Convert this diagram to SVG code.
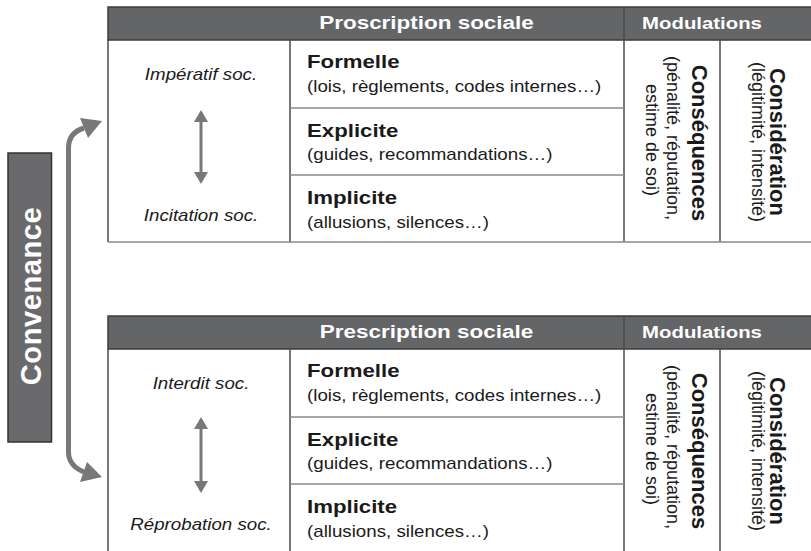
<svg xmlns="http://www.w3.org/2000/svg" width="811" height="551" viewBox="0 0 811 551">
<style>
text{font-family:"Liberation Sans",Arial,sans-serif;fill:#1a1a1a}
.hd{font-weight:bold;fill:#fff}
.t{font-weight:bold;font-size:19px}
.s{font-size:16px}
.i{font-style:italic;font-size:16px;text-anchor:middle}
.rb{font-weight:bold;font-size:22px;text-anchor:middle}
.rs{font-size:18px;text-anchor:middle}
.hdr{fill:#646567;stroke:#3c3c3e;stroke-width:1.5}
.dk{stroke:#4a4a4c;stroke-width:1.5;fill:none}
.lt{stroke:#8a8a8c;stroke-width:1.5;fill:none}
.arr{stroke:#78787a;fill:none}
.ah{fill:#78787a}
</style>
<g id="convenance">
<rect x="8" y="153" width="43.5" height="289" fill="#6a6a6c" stroke="#333" stroke-width="1.5"/>
<text class="hd" transform="translate(41,296) rotate(-90)" text-anchor="middle" font-size="29" letter-spacing="0.6">Convenance</text>
</g>
<g id="connectors">
<path class="arr" stroke-width="5" d="M68.5,300 V148 C68.5,137 74,131 84,128"/>
<polygon class="ah" points="102,121 80,118 88,138"/>
<path class="arr" stroke-width="5" d="M68.5,300 V452 C68.5,462 74,468 84,472"/>
<polygon class="ah" points="102,477 80,482 87,462"/>
</g>
<g id="table-prescription-top">
<rect class="hdr" x="108" y="7" width="710" height="33"/>
<line class="dk" x1="624" y1="7" x2="624" y2="40"/>
<text class="hd" transform="translate(426.5,29) scale(1.17,1)" text-anchor="middle" font-size="19.2">Proscription sociale</text>
<text class="hd" transform="translate(702,29) scale(1.17,1)" text-anchor="middle" font-size="17.4">Modulations</text>
<line class="dk" x1="108" y1="40" x2="108" y2="242"/>
<line class="dk" x1="290" y1="40" x2="290" y2="242"/>
<line class="dk" x1="624" y1="40" x2="624" y2="242"/>
<line class="dk" x1="720" y1="40" x2="720" y2="242"/>
<line class="lt" x1="290" y1="108" x2="624" y2="108"/>
<line class="lt" x1="290" y1="175" x2="624" y2="175"/>
<line class="lt" x1="108" y1="242" x2="811" y2="242"/>
<text class="i" transform="translate(201,80) scale(1.17,1)">Impératif soc.</text>
<text class="i" transform="translate(201,221) scale(1.17,1)">Incitation soc.</text>
<line class="arr" stroke-width="3" x1="201" y1="119" x2="201" y2="175"/>
<polygon class="ah" points="201,110 194,122 208,122"/>
<polygon class="ah" points="201,184 194,172 208,172"/>
<text class="t" transform="translate(307,68) scale(1.17,1)">Formelle</text>
<text class="s" transform="translate(307,92) scale(1.17,1)">(lois, règlements, codes internes…)</text>
<text class="t" transform="translate(307,137) scale(1.17,1)">Explicite</text>
<text class="s" transform="translate(307,160) scale(1.17,1)">(guides, recommandations…)</text>
<text class="t" transform="translate(307,204) scale(1.17,1)">Implicite</text>
<text class="s" transform="translate(307,227.5) scale(1.17,1)">(allusions, silences…)</text>
<text class="rb" transform="translate(692,143) rotate(90)">Conséquences</text>
<text class="rs" transform="translate(667,138) rotate(90)">(pénalité, réputation,</text>
<text class="rs" transform="translate(646,140) rotate(90)">estime de soi)</text>
<text class="rb" transform="translate(770,142) rotate(90)">Considération</text>
<text class="rs" transform="translate(752,142) rotate(90)">(légitimité, intensité)</text>
</g>
<g id="table-prescription-bottom">
<rect class="hdr" x="108" y="316" width="710" height="33"/>
<line class="dk" x1="624" y1="316" x2="624" y2="349"/>
<text class="hd" transform="translate(426.5,338) scale(1.17,1)" text-anchor="middle" font-size="19.2">Prescription sociale</text>
<text class="hd" transform="translate(702,338) scale(1.17,1)" text-anchor="middle" font-size="17.4">Modulations</text>
<line class="dk" x1="108" y1="349" x2="108" y2="551"/>
<line class="dk" x1="290" y1="349" x2="290" y2="551"/>
<line class="dk" x1="624" y1="349" x2="624" y2="551"/>
<line class="dk" x1="720" y1="349" x2="720" y2="551"/>
<line class="lt" x1="290" y1="417" x2="624" y2="417"/>
<line class="lt" x1="290" y1="484" x2="624" y2="484"/>
<text class="i" transform="translate(201,389) scale(1.17,1)">Interdit soc.</text>
<text class="i" transform="translate(201,530) scale(1.17,1)">Réprobation soc.</text>
<line class="arr" stroke-width="3" x1="201" y1="426" x2="201" y2="484"/>
<polygon class="ah" points="201,417 194,429 208,429"/>
<polygon class="ah" points="201,493 194,481 208,481"/>
<text class="t" transform="translate(307,377) scale(1.17,1)">Formelle</text>
<text class="s" transform="translate(307,401) scale(1.17,1)">(lois, règlements, codes internes…)</text>
<text class="t" transform="translate(307,446) scale(1.17,1)">Explicite</text>
<text class="s" transform="translate(307,469) scale(1.17,1)">(guides, recommandations…)</text>
<text class="t" transform="translate(307,513) scale(1.17,1)">Implicite</text>
<text class="s" transform="translate(307,536.5) scale(1.17,1)">(allusions, silences…)</text>
<text class="rb" transform="translate(692,451) rotate(90)">Conséquences</text>
<text class="rs" transform="translate(667,447) rotate(90)">(pénalité, réputation,</text>
<text class="rs" transform="translate(646,449) rotate(90)">estime de soi)</text>
<text class="rb" transform="translate(770,451) rotate(90)">Considération</text>
<text class="rs" transform="translate(752,451) rotate(90)">(légitimité, intensité)</text>
</g>
</svg>
